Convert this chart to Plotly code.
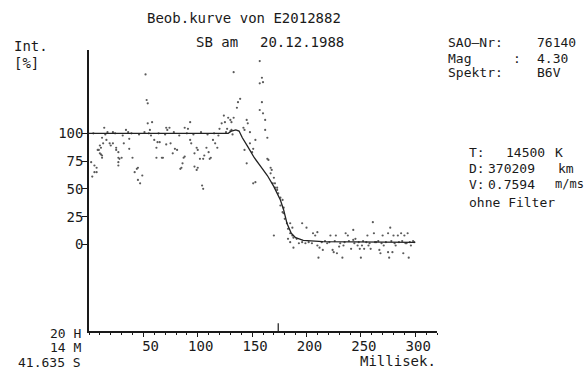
import plotly.graph_objects as go

# ---- data ----
obs_x = [2, 3, 4, 5, 5, 7, 7, 8, 9, 10, 10, 11, 11, 12, 12, 12, 13, 14, 15, 16, 17, 19, 20,
         22, 22, 24, 25, 25, 27, 27, 27, 27, 28, 30, 31, 32, 34, 36, 37, 37, 39, 40, 42, 44, 45,
         45, 46, 47, 49, 51, 52, 53, 54, 54, 55, 56, 57, 58, 60, 62, 62, 63, 64, 65, 67, 68, 70,
         71, 71, 72, 74, 75, 77, 78, 79, 81, 83, 84, 85, 86, 87, 88, 88, 90, 91, 93, 93, 94, 96,
         97, 97, 99, 99, 100, 100, 102, 103, 104, 105, 105, 106, 108, 109, 110, 111, 112, 114,
         115, 116, 118, 119, 120, 122, 124, 125, 126, 127, 128, 130, 130, 131, 131, 132, 133,
         133, 136, 137, 139, 142, 143, 143, 145, 145, 146, 148, 148, 150, 151, 151, 153, 153,
         157, 157, 157, 159, 159, 160, 160, 162, 162, 164, 164, 165, 167, 167, 168, 169, 170,
         170, 171, 171, 173, 173, 174, 176, 176, 178, 178, 179, 179, 180, 182, 183, 183, 185,
         185, 185, 187, 187, 188, 188, 191, 193, 196, 196, 199, 200, 202, 205, 206, 208, 210,
         210, 211, 212, 214, 215, 217, 219, 221, 222, 224, 225, 226, 227, 228, 230, 231, 233,
         234, 235, 236, 238, 239, 241, 243, 243, 244, 245, 247, 248, 249, 250, 251, 252, 253,
         255, 256, 257, 258, 259, 261, 262, 263, 264, 266, 267, 268, 269, 270, 271, 273, 275,
         275, 276, 277, 278, 279, 280, 281, 282, 284, 285, 287, 288, 289, 290, 291, 292, 293,
         294, 295, 296, 298, 299]
obs_y = [74, 61, 100, 71, 65, 65, 69, 85, 85, 82, 89, 87, 81, 80, 96, 78, 91, 105, 99, 94, 101, 91, 89,
         101, 91, 100, 85, 87, 78, 71, 83, 74, 77, 78, 98, 91, 103, 101, 86, 95, 100, 78, 65, 68, 69,
         58, 99, 55, 62, 101, 153, 130, 127, 109, 100, 103, 98, 110, 94, 87, 78, 92, 100, 92, 78, 78, 99,
         105, 90, 103, 105, 91, 82, 101, 86, 85, 98, 68, 69, 73, 78, 79, 105, 100, 104, 110, 94, 91, 99,
         82, 70, 87, 67, 85, 69, 77, 101, 53, 50, 77, 80, 87, 99, 83, 77, 78, 94,
         100, 91, 87, 98, 104, 109, 116, 110, 101, 104, 114, 112, 102, 110, 103, 99, 114,
         155, 123, 128, 131, 105, 103, 85, 112, 73, 109, 101, 91, 83, 86, 55, 94, 56,
         165, 145, 121, 150, 128, 146, 118, 112, 103, 96, 77, 76, 69, 64, 67, 55, 60,
         8, 55, 51, 51, 49, 46, 42, 35, 40, 29, 33, 28, 23, 19, 14, 5, 10,
         2, 19, 8, 15, 6, -3, 5, 1, 2, 19, 1, 15, 2, 1, 10, 8, 11,
         -1, -12, -3, 2, -5, 3, 1, 2, 8, -5, -7, 3, 8, -8, -2, 1, -12,
         -1, 2, 10, 8, 3, -4, 4, 13, 1, 5, -1, 2, -4, -12, -1, 3, -4,
         2, 8, -1, 1, -4, 20, 10, 2, 2, 3, -5, -8, 1, 8, -1, 2, 10,
         -7, -12, 15, 3, -7, 8, 1, -1, 8, 2, 10, 3, -8, 8, 1, 1, 10,
         -12, 2, -1, 3, 2]

fit_x = [0, 128, 131, 135, 138, 141, 146, 152, 158, 164, 170, 176, 179, 182, 186, 190, 197, 215, 300]
fit_y = [100, 100, 102, 103, 102, 96, 88, 78, 70, 62, 52, 40, 31, 19, 10, 6, 3.5, 2.5, 1.8]

x_ticks = [50, 100, 150, 200, 250, 300]
x_ticktext = ["\u00a050", "100", "150", "200", "250", "300"]
y_ticks = [0, 25, 50, 75, 100]
y_ticktext = ["0", "25", "50", "75", "100"]

FONT = "DejaVu Sans Mono"
INK = "#1a1a1a"

fig = go.Figure()
fig.add_trace(go.Scatter(x=obs_x, y=obs_y, mode="markers",
                         marker=dict(size=2.2, color="#5a5a5a", line=dict(width=0)),
                         hoverinfo="skip"))
fig.add_trace(go.Scatter(x=fit_x, y=fit_y, mode="lines",
                         line=dict(color="#222222", width=1.3), hoverinfo="skip"))

# event marker on the time axis
fig.add_shape(type="line", x0=174, x1=174, y0=-78, y1=-71, xref="x", yref="y",
              line=dict(color=INK, width=1.2))

L, R, T, B = 89, 151, 50, 38
W, H = 588, 369
PW, PH = W - L - R, H - T - B


def ann(text, px, py, anchor="left", size=14):
    fig.add_annotation(text=text, xref="paper", yref="paper",
                       x=(px - L) / PW, y=(H - B - py) / PH,
                       xanchor=anchor, yanchor="middle", showarrow=False,
                       font=dict(family=FONT, size=size, color=INK))


ann("Beob.kurve von E2012882", 145, 18)
ann("SB am", 194, 42)
ann("20.12.1988", 258, 42)
ann("Int.", 12, 46)
ann("[%]", 12, 63)
ann("SAO\u2014Nr:", 446, 43, size=13)
ann("76140", 535, 43, size=13)
ann("Mag", 446, 58, size=13)
ann(":", 511, 58, size=13)
ann("4.30", 535, 58, size=13)
ann("Spektr:", 446, 72, size=13)
ann("B6V", 535, 72, size=13)
ann("T:", 467, 152, size=13)
ann("14500", 504, 152, size=13)
ann("K", 553, 152, size=13)
ann("D:", 467, 168, size=13)
ann("370209", 486, 168, size=13)
ann("km", 576, 168, "right", size=13)
ann("V:", 467, 184, size=13)
ann("0.7594", 486, 184, size=13)
ann("m/ms", 586, 184, "right", size=12)
ann("ohne Filter", 467, 202, size=13)
ann("20 H", 83, 333, "right", size=13)
ann("14 M", 83, 347.5, "right", size=13)
ann("41.635 S", 83, 362, "right", size=13)
ann("Millisek.", 438, 361, "right")

fig.update_layout(
    width=W, height=H,
    margin=dict(l=L, r=R, t=T, b=B),
    paper_bgcolor="white", plot_bgcolor="white",
    showlegend=False,
    font=dict(family=FONT, size=14, color=INK),
    xaxis=dict(range=[0, 320], showgrid=False, zeroline=False,
               showline=True, linecolor=INK, linewidth=1.5,
               tickmode="array", tickvals=x_ticks, ticktext=x_ticktext,
               ticks="outside", ticklen=4, tickwidth=1.2, tickcolor=INK,
               ticklabelshift=3, ticklabelstandoff=-3,
               minor=dict(dtick=10, tick0=0, ticks="outside", ticklen=2,
                          tickwidth=1, tickcolor=INK),
               tickfont=dict(family=FONT, size=14, color=INK)),
    yaxis=dict(range=[-78, 175], showgrid=False, zeroline=False,
               showline=True, linecolor=INK, linewidth=1.5,
               tickmode="array", tickvals=y_ticks, ticktext=y_ticktext,
               ticks="outside", ticklen=5, tickwidth=1.2, tickcolor=INK,
               ticklabelstandoff=-4,
               tickfont=dict(family=FONT, size=14, color=INK)),
)

fig.write_html("out.html")
